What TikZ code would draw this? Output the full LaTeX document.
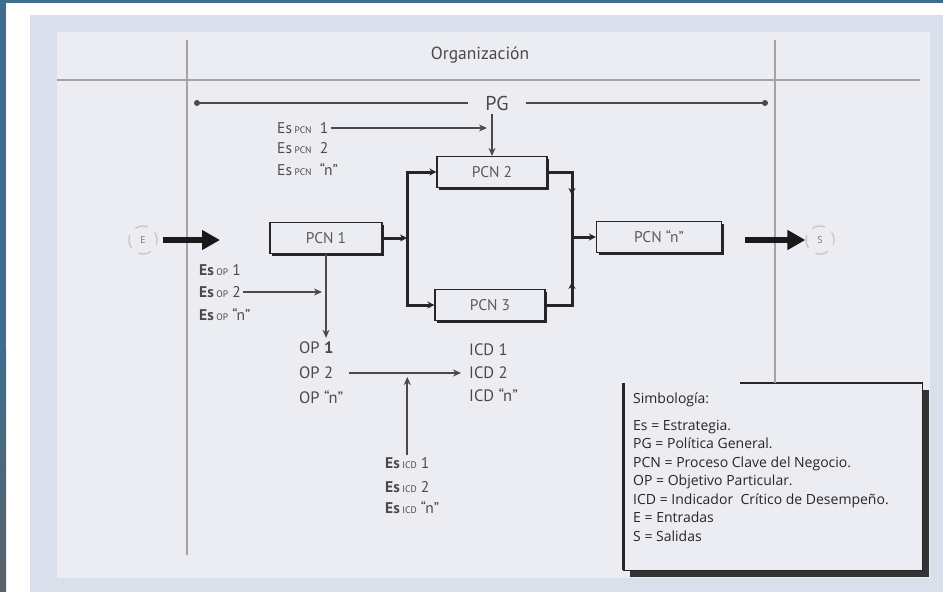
\documentclass[tikz,border=0pt]{standalone}
\usepackage{fontspec}
\setmainfont{PT Sans}
\newfontfamily\legendfont{Open Sans}
\usetikzlibrary{arrows.meta,positioning,shadows,calc}
\definecolor{stripblue}{HTML}{3D6E8D}
\definecolor{stripgray}{HTML}{5A6268}
\definecolor{outerbg}{HTML}{D9E0EC}
\definecolor{panelbg}{HTML}{ECEDF2}
\definecolor{frameline}{HTML}{A3A3A3}
\definecolor{ink}{HTML}{4A4A4A}
\definecolor{boxtext}{HTML}{5A5A5A}
\newcommand{\subtag}[1]{{\fontsize{9.5}{9.5}\selectfont #1}}
\tikzset{
  pcnbox/.style={draw=black!85, line width=1.1pt, fill=panelbg, minimum height=31pt,
    inner sep=0pt, text=boxtext, font=\fontsize{15.5}{17}\selectfont,
    drop shadow={shadow xshift=2.2pt, shadow yshift=-2.2pt, fill=black!85, opacity=1}},
  lbl/.style={anchor=west, inner sep=2pt, text=ink, font=\fontsize{15.5}{17}\selectfont},
  thin/.style={draw=ink, line width=1.7pt, -{Stealth[length=8pt,width=7pt]}},
  flow/.style={draw=black!85, line width=3pt},
  flowtip/.style={flow, -{Stealth[length=7pt,width=7pt]}},
  bigarrow/.style={draw=black!90, line width=6pt, -{Triangle[length=18pt,width=19pt]}},
  frame/.style={draw=frameline, line width=1.8pt},
  io/.style={circle, draw=gray!45, line width=1.3pt, dash pattern=on 13pt off 9pt,
    dash phase=5pt, minimum size=28pt, inner sep=0pt, text=gray, font=\fontsize{10}{10}\selectfont},
}
\begin{document}
\begin{tikzpicture}[x=1pt, y=-1pt]
  \useasboundingbox (0,0) rectangle (943,592);
  % background and panel
  \fill[white] (0,0) rectangle (943,592);
  \fill[stripblue] (0,0) rectangle (943,3);
  \fill[stripblue] (0,0) rectangle (6,350);
  \shade[top color=stripblue, bottom color=stripgray] (0,350) rectangle (6,592);
  \fill[outerbg] (30,15) rectangle (943,592);
  \fill[panelbg] (57,32) rectangle (930,578);

  % organization frame
  \node[text=ink, font=\fontsize{17.5}{19}\selectfont] (org) at (480,55) {Organización};
  \draw[frame] (57,80) -- (920,80);
  \draw[frame] (187,40) -- (187,555);

  % legend
  \node[fill=panelbg, anchor=north west, minimum width=299pt, minimum height=187pt,
    drop shadow={shadow xshift=7pt, shadow yshift=-7pt, fill=black!80, opacity=1}] (legend) at (623,383) {};
  \draw[line width=3pt, black!85] (legend.north west) -- (legend.south west);
  \draw[line width=1.5pt, black!85] (legend.south west) -- (legend.south east)
    -- (legend.north east) -- ($(legend.north west)+(117,0)$);
  \node[anchor=north west, align=left, inner sep=0pt, text=black!85,
    font=\legendfont\fontsize{14}{18.5}\selectfont] (legtext) at ($(legend.north west)+(10,10)$)
    {Simbología:\\[8pt]
     Es = Estrategia.\\
     PG = Política General.\\
     PCN = Proceso Clave del Negocio.\\
     OP = Objetivo Particular.\\
     ICD = Indicador\ \ Crítico de Desempeño.\\
     E = Entradas\\
     S = Salidas};
  \coordinate (vr) at (775,40);
  \draw[frame] (vr) -- (vr |- legend.north);

  % general policy
  \node[inner xsep=17pt, text=ink, font=\fontsize{20}{22}\selectfont] (pg) at (497,103) {PG};
  \coordinate (pgl) at (197,103);
  \coordinate (pgr) at (765,103);
  \draw[ink, line width=2pt] (pgl) -- (pg.west);
  \draw[ink, line width=2pt] (pg.east) -- (pgr);
  \fill[ink] (pgl) circle (3pt);
  \fill[ink] (pgr) circle (3pt);

  % key business processes
  \node[pcnbox, minimum width=112pt] (pcn1) at (326,238) {PCN 1};
  \node[pcnbox, minimum width=110pt] (pcn2) at (492,172) {PCN 2};
  \node[pcnbox, minimum width=110pt] (pcn3) at (490,305) {PCN 3};
  \node[pcnbox, minimum width=125pt] (pcnn) at (659,237) {PCN “n”};

  % inputs and outputs
  \node[io] (ent) at (143,240) {E};
  \node[io] (sal) at (820,240) {S};
  \coordinate (entin) at (220,240);
  \draw[bigarrow, shorten <=5pt] (ent.east) -- (entin);
  \draw[bigarrow] ($(pcnn.east |- sal.west)+(23,0)$) -- (sal.west);

  % fork and join
  \coordinate (fork) at (407,238);
  \coordinate (join) at (572,237);
  \draw[flowtip] (pcn1.east) -- (fork);
  \draw[flowtip] (fork) |- (pcn2.west);
  \draw[flowtip] (fork) |- (pcn3.west);
  \draw[flow] (pcn2.east) -| (join);
  \draw[flow] (pcn3.east) -| (join);
  \draw[flowtip] (pcn2.east -| join) -- ++(0,23);
  \draw[flowtip] (pcn3.east -| join) -- ++(0,-23);
  \draw[flowtip] (join) -- (pcnn.west);

  % strategies for PCN
  \node[lbl] (espcn1) at (275,128) {Es\,\subtag{PCN}\ \ 1};
  \node[lbl] (espcn2) at (275,148) {Es\,\subtag{PCN}\ \ 2};
  \node[lbl] (espcnn) at (275,170) {Es\,\subtag{PCN}\ \ “n”};
  \draw[thin] (espcn1.east) -- ($(pcn2.north |- espcn1.east)+(-5,0)$);
  \draw[thin] (pcn2.north |- pg.south) -- (pcn2.north);

  % strategies for OP
  \node[lbl] (esop1) at (197,270) {\textbf{Es}\,\subtag{OP}\ 1};
  \node[lbl] (esop2) at (197,292) {\textbf{Es}\,\subtag{OP}\ 2};
  \node[lbl] (esopn) at (197,315) {\textbf{Es}\,\subtag{OP}\ “n”};
  \draw[thin] (esop2.east) -- ($(pcn1.south |- esop2.east)+(-4,0)$);

  % particular objectives
  \node[lbl, font=\fontsize{16.5}{18}\selectfont] (op1) at (297,348) {OP \textbf{1}};
  \node[lbl, font=\fontsize{16.5}{18}\selectfont] (op2) at (297,373) {OP 2};
  \node[lbl, font=\fontsize{16.5}{18}\selectfont] (opn) at (297,397) {OP “n”};
  \draw[thin] (pcn1.south) -- ($(pcn1.south |- op1.north)+(0,-2)$);

  % critical indicators
  \node[lbl, font=\fontsize{16.5}{18}\selectfont] (icd1) at (467,350) {ICD 1};
  \node[lbl, font=\fontsize{16.5}{18}\selectfont] (icd2) at (467,373) {ICD 2};
  \node[lbl, font=\fontsize{16.5}{18}\selectfont] (icdn) at (467,395) {ICD “n”};
  \draw[thin, shorten <=14pt, shorten >=6pt] (op2.east) -- (icd2.west);

  % strategies for ICD
  \node[lbl] (esicd1) at (383,463) {\textbf{Es}\,\subtag{ICD}\ 1};
  \node[lbl] (esicd2) at (383,487) {\textbf{Es}\,\subtag{ICD}\ 2};
  \node[lbl] (esicdn) at (383,508) {\textbf{Es}\,\subtag{ICD}\ “n”};
  \draw[thin] (esicd1.north) -- ($(esicd1.north |- op2.east)+(0,4)$);
\end{tikzpicture}
\end{document}
